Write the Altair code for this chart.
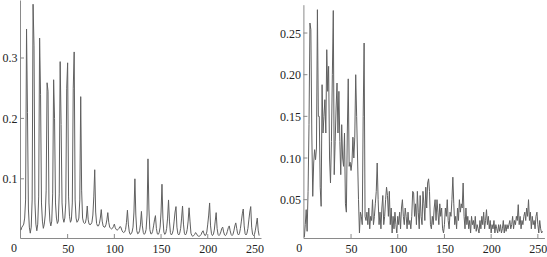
import altair as alt
import pandas as pd

left_vals = [
    0.015, 0.02, 0.022, 0.025, 0.035, 0.065, 0.348, 0.21, 0.05, 0.02,
    0.01, 0.02, 0.065, 0.389, 0.32, 0.06, 0.025, 0.014, 0.025, 0.07,
    0.333, 0.24, 0.06, 0.03, 0.018, 0.025, 0.04, 0.08, 0.259, 0.245,
    0.06, 0.03, 0.022, 0.03, 0.075, 0.264, 0.2, 0.06, 0.035, 0.026,
    0.03, 0.075, 0.294, 0.19, 0.06, 0.035, 0.028, 0.035, 0.06, 0.25,
    0.292, 0.07, 0.038, 0.028, 0.032, 0.06, 0.25, 0.31, 0.065, 0.035,
    0.028, 0.03, 0.035, 0.065, 0.236, 0.08, 0.035, 0.028, 0.026, 0.027,
    0.035, 0.055, 0.032, 0.025, 0.024, 0.025, 0.028, 0.04, 0.07, 0.115,
    0.045, 0.026, 0.022, 0.022, 0.026, 0.035, 0.049, 0.03, 0.022, 0.02,
    0.02, 0.024, 0.032, 0.044, 0.028, 0.02, 0.018, 0.017, 0.018, 0.021,
    0.025, 0.019, 0.016, 0.015, 0.016, 0.018, 0.021, 0.02, 0.015, 0.012,
    0.011, 0.012, 0.016, 0.028, 0.048, 0.025, 0.012, 0.008, 0.009, 0.012,
    0.02, 0.045, 0.1, 0.04, 0.014, 0.009, 0.01, 0.014, 0.025, 0.046,
    0.022, 0.011, 0.008, 0.01, 0.016, 0.04, 0.133, 0.05, 0.016, 0.009,
    0.009, 0.013, 0.022, 0.032, 0.039, 0.018, 0.009, 0.008, 0.011, 0.02,
    0.045, 0.091, 0.035, 0.012, 0.008, 0.01, 0.018, 0.035, 0.065, 0.03,
    0.011, 0.007, 0.009, 0.015, 0.03, 0.045, 0.054, 0.02, 0.009, 0.007,
    0.01, 0.018, 0.035, 0.055, 0.025, 0.01, 0.007, 0.009, 0.016, 0.03,
    0.052, 0.03, 0.01, 0.006, 0.005, 0.006, 0.008, 0.011, 0.009, 0.006,
    0.005, 0.005, 0.006, 0.008, 0.012, 0.014, 0.009, 0.006, 0.007, 0.012,
    0.025, 0.04, 0.06, 0.022, 0.009, 0.006, 0.008, 0.015, 0.03, 0.044,
    0.018, 0.008, 0.006, 0.008, 0.012, 0.018, 0.02, 0.012, 0.007, 0.006,
    0.008, 0.013, 0.019, 0.022, 0.014, 0.008, 0.006, 0.008, 0.014, 0.022,
    0.027, 0.018, 0.009, 0.007, 0.01, 0.018, 0.03, 0.042, 0.05, 0.022,
    0.009, 0.007, 0.01, 0.018, 0.032, 0.045, 0.054, 0.02, 0.008, 0.006,
    0.008, 0.015, 0.025, 0.035, 0.015, 0.006,
]

right_vals = [
    0.005, 0.02, 0.038, 0.012, 0.06, 0.14, 0.262, 0.254, 0.13, 0.054,
    0.094, 0.11, 0.098, 0.112, 0.278, 0.15, 0.15, 0.065, 0.042, 0.188,
    0.13, 0.15, 0.17, 0.13, 0.23, 0.18, 0.21, 0.1, 0.07, 0.12,
    0.2, 0.277, 0.08, 0.12, 0.16, 0.19, 0.13, 0.18, 0.12, 0.08,
    0.14, 0.1, 0.09, 0.13, 0.045, 0.035, 0.13, 0.195, 0.09, 0.095,
    0.085, 0.095, 0.125, 0.1, 0.125, 0.2, 0.15, 0.1, 0.05, 0.01,
    0.035, 0.03, 0.02, 0.15, 0.238, 0.03, 0.025, 0.035, 0.02, 0.04,
    0.015, 0.03, 0.025, 0.05, 0.02, 0.03, 0.045, 0.06, 0.094, 0.05,
    0.02, 0.035, 0.015, 0.04, 0.055, 0.02, 0.03, 0.05, 0.065, 0.055,
    0.03, 0.06, 0.02, 0.04, 0.01, 0.03, 0.015, 0.035, 0.02, 0.01,
    0.03, 0.02, 0.035, 0.015, 0.04, 0.05, 0.03, 0.02, 0.04, 0.03,
    0.015, 0.035, 0.02, 0.025, 0.015, 0.03, 0.06, 0.058, 0.03, 0.045,
    0.02, 0.06, 0.035, 0.015, 0.055, 0.03, 0.02, 0.06, 0.045, 0.025,
    0.065, 0.04, 0.07, 0.075, 0.06, 0.02, 0.015, 0.03, 0.02, 0.04,
    0.05, 0.025, 0.05, 0.035, 0.02, 0.045, 0.03, 0.04, 0.015, 0.01,
    0.02, 0.04, 0.03, 0.05, 0.025, 0.015, 0.035, 0.03, 0.05, 0.077,
    0.045, 0.02, 0.03, 0.015, 0.04, 0.025, 0.05, 0.035, 0.045, 0.04,
    0.07, 0.03, 0.015, 0.04, 0.02, 0.03, 0.015, 0.025, 0.01, 0.03,
    0.02, 0.025, 0.015, 0.03, 0.012, 0.02, 0.015, 0.01, 0.025, 0.015,
    0.03, 0.02, 0.035, 0.015, 0.025, 0.038, 0.02, 0.03, 0.015, 0.025,
    0.01, 0.02, 0.015, 0.025, 0.01, 0.02, 0.015, 0.01, 0.02, 0.012,
    0.02, 0.01, 0.015, 0.025, 0.01, 0.02, 0.012, 0.02, 0.015, 0.02,
    0.025, 0.015, 0.02, 0.03, 0.015, 0.025, 0.02, 0.03, 0.025, 0.044,
    0.02, 0.03, 0.015, 0.025, 0.02, 0.03, 0.035, 0.025, 0.04, 0.03,
    0.05, 0.025, 0.035, 0.015, 0.03, 0.02, 0.025, 0.015, 0.03, 0.035,
    0.02, 0.01, 0.025, 0.015, 0.01, 0.012,
]

x_tick_values = [50, 100, 150, 200, 250]
x_origin_label = [0]
left_y_ticks = [0.1, 0.2, 0.3]
right_y_ticks = [0.05, 0.10, 0.15, 0.20, 0.25]

AXIS_COLOR = "#8a8a8a"
LINE_COLOR = "#606060"
FONT = "Liberation Serif, Times New Roman, DejaVu Serif, serif"
W, H = 241, 238


def panel(vals, ydomain, yrange, yticks, yfmt, zero_offset):
    df = pd.DataFrame({"x": list(range(len(vals))), "y": vals})
    xs = alt.Scale(domain=[-1, 257], nice=False, zero=False)
    ys = alt.Scale(domain=ydomain, range=yrange, nice=False, zero=False)
    xaxis = alt.Axis(values=x_tick_values, format="d", title=None, labelPadding=5)
    yaxis = alt.Axis(values=yticks, format=yfmt, title=None, labelPadding=3)
    line = alt.Chart(df).mark_line(color=LINE_COLOR, strokeWidth=1, clip=True).encode(
        x=alt.X("x:Q", scale=xs, axis=xaxis),
        y=alt.Y("y:Q", scale=ys, axis=yaxis),
    )
    yt = alt.Chart(pd.DataFrame({"v": yticks})).mark_rule(color=AXIS_COLOR, strokeWidth=1).encode(
        y=alt.Y("v:Q", scale=ys, axis=yaxis),
        x=alt.value(0), x2=alt.value(4),
    )
    xt = alt.Chart(pd.DataFrame({"v": x_tick_values})).mark_rule(color=AXIS_COLOR, strokeWidth=1).encode(
        x=alt.X("v:Q", scale=xs, axis=xaxis),
        y=alt.value(H), y2=alt.value(H - 4),
    )
    zero = alt.Chart(pd.DataFrame({"v": x_origin_label})).mark_text(
        font=FONT, fontSize=12, color="#222222", baseline="top",
        dx=zero_offset, dy=5,
    ).encode(
        x=alt.X("v:Q", scale=xs, axis=xaxis),
        y=alt.value(H),
        text=alt.Text("v:Q", format="d"),
    )
    return alt.layer(line, yt, xt, zero).properties(width=W, height=H)


left = panel(left_vals, [0.002, 0.396], [H, 0], left_y_ticks, ".1f", -7)
right = panel(right_vals, [0.004, 0.284], [H, 4.7], right_y_ticks, ".2f", -5)

chart = alt.hconcat(left, right, spacing=42.4, bounds="flush").properties(
    padding={"left": 2, "top": 0, "right": 0, "bottom": 0},
).configure_view(stroke=None).configure_axis(
    domainColor=AXIS_COLOR, domainWidth=1, grid=False, ticks=False,
    labelFont=FONT, labelFontSize=12, labelColor="#222222",
)

chart.save("out.html", embed_options={"renderer": "svg", "actions": False})
